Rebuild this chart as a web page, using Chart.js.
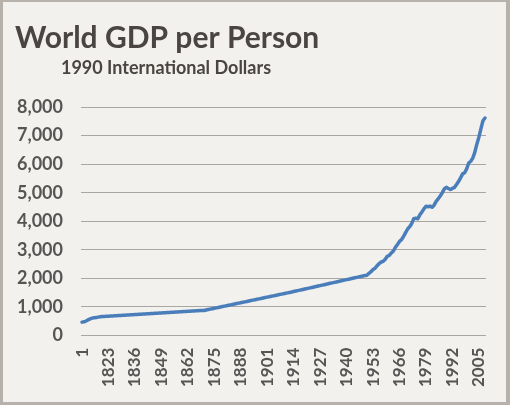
<!DOCTYPE html>
<html>
<head>
<meta charset="utf-8">
<script src="https://cdn.jsdelivr.net/npm/chart.js@4.4.1/dist/chart.umd.min.js"></script>
<style>
html, body { margin: 0; padding: 0; background: #b7b1ab; width: 510px; height: 405px; overflow: hidden; }
#frame { position: absolute; left: 3px; top: 2px; width: 503px; height: 400px; background: #f2f1ed; }
canvas { display: block; }
</style>
</head>
<body>
<div id="frame"><canvas id="chart" width="503" height="400"></canvas></div>
<script>
// categories: year 1 AD, then annual 1811-2008
var years = [1,
  1811,1812,1813,1814,1815,1816,1817,1818,1819,1820,
  1821,1822,1823,1824,1825,1826,1827,1828,1829,1830,
  1831,1832,1833,1834,1835,1836,1837,1838,1839,1840,
  1841,1842,1843,1844,1845,1846,1847,1848,1849,1850,
  1851,1852,1853,1854,1855,1856,1857,1858,1859,1860,
  1861,1862,1863,1864,1865,1866,1867,1868,1869,1870,
  1871,1872,1873,1874,1875,1876,1877,1878,1879,1880,
  1881,1882,1883,1884,1885,1886,1887,1888,1889,1890,
  1891,1892,1893,1894,1895,1896,1897,1898,1899,1900,
  1901,1902,1903,1904,1905,1906,1907,1908,1909,1910,
  1911,1912,1913,1914,1915,1916,1917,1918,1919,1920,
  1921,1922,1923,1924,1925,1926,1927,1928,1929,1930,
  1931,1932,1933,1934,1935,1936,1937,1938,1939,1940,
  1941,1942,1943,1944,1945,1946,1947,1948,1949,1950,
  1951,1952,1953,1954,1955,1956,1957,1958,1959,1960,
  1961,1962,1963,1964,1965,1966,1967,1968,1969,1970,
  1971,1972,1973,1974,1975,1976,1977,1978,1979,1980,
  1981,1982,1983,1984,1985,1986,1987,1988,1989,1990,
  1991,1992,1993,1994,1995,1996,1997,1998,1999,2000,
  2001,2002,2003,2004,2005,2006,2007,2008];

// GDP per person, 1990 international dollars
var gdpPerPerson = [470,
  480,510,550,585,610,625,635,645,655,665,
  670,674,678,683,687,691,696,700,704,709,
  713,717,722,726,730,735,739,743,748,752,
  756,761,765,769,774,778,782,787,791,795,
  800,804,808,813,817,821,826,830,834,839,
  843,847,852,856,860,865,869,873,877,880,
  895,910,925,940,955,970,985,1000,1015,1030,
  1045,1060,1075,1090,1105,1120,1135,1150,1165,1180,
  1195,1210,1225,1240,1255,1270,1285,1300,1315,1330,
  1345,1360,1375,1390,1405,1420,1435,1450,1465,1480,
  1495,1510,1525,1541,1557,1573,1589,1605,1621,1637,
  1653,1669,1685,1701,1717,1733,1749,1765,1781,1797,
  1813,1829,1845,1861,1877,1893,1909,1925,1941,1957,
  1973,1989,2005,2021,2037,2053,2069,2085,2101,2111,
  2180,2235,2310,2355,2445,2520,2575,2600,2670,2775,
  2805,2890,2960,3090,3190,3295,3355,3475,3600,3730,
  3810,3920,4090,4110,4090,4225,4325,4435,4525,4510,
  4530,4495,4565,4695,4785,4885,4995,5135,5190,5150,
  5110,5150,5185,5285,5390,5520,5660,5700,5835,6040,
  6100,6210,6410,6700,6945,7235,7520,7615];

var labelEvery = 13;
var yMin = 0, yMax = 8000, yStep = 1000;

var titleText = 'World GDP per Person';
var subtitleText = '1990 International Dollars';
var textColor = '#4a4542';
var tickColor = '#555555';
var gridColor = '#aaa7a3';
var lineColor = '#4a7ebb';

// subtitle sits off-centre under the title, so draw it by hand
var subtitlePlugin = {
  id: 'subtitleText',
  afterDraw: function(chart) {
    var ctx = chart.ctx;
    ctx.save();
    ctx.font = 'bold 18px Lato';
    ctx.fillStyle = textColor;
    ctx.textAlign = 'center';
    ctx.textBaseline = 'middle';
    ctx.fillText(subtitleText, 163, 66);
    ctx.restore();
  }
};

var ctx = document.getElementById('chart');
var chart = new Chart(ctx, {
  type: 'line',
  data: {
    labels: years.map(String),
    datasets: [{
      label: 'GDP per person',
      data: gdpPerPerson,
      borderColor: lineColor,
      backgroundColor: lineColor,
      borderWidth: 3.5,
      borderCapStyle: 'round',
      borderJoinStyle: 'round',
      pointRadius: 0,
      tension: 0,
      fill: false
    }]
  },
  options: {
    responsive: false,
    animation: false,
    events: [],
    layout: { padding: { left: 12, right: 20, top: 0, bottom: 3 } },
    plugins: {
      legend: { display: false },
      tooltip: { enabled: false },
      title: {
        display: true,
        text: titleText,
        align: 'start',
        color: textColor,
        font: { family: 'Lato', size: 30, weight: 'bold' },
        padding: { top: 18, bottom: 51 }
      }
    },
    scales: {
      x: {
        type: 'category',
        offset: true,
        grid: { display: false, drawTicks: false },
        border: { display: false },
        afterFit: function(scale) {
          scale.paddingLeft = 0;
          scale.paddingRight = 0;
        },
        ticks: {
          autoSkip: false,
          minRotation: 90,
          maxRotation: 90,
          padding: 12,
          color: tickColor,
          font: { family: 'Lato', size: 17, weight: 'bold' },
          callback: function(value, index) {
            return index % labelEvery === 0 ? this.getLabelForValue(value) : '';
          }
        }
      },
      y: {
        min: yMin,
        max: yMax,
        grid: { color: gridColor, lineWidth: 1, drawTicks: false },
        border: { display: false },
        afterFit: function(scale) {
          scale.width = 66;
        },
        ticks: {
          stepSize: yStep,
          padding: 18,
          color: tickColor,
          font: { family: 'Lato', size: 18, weight: 'bold' },
          callback: function(v) { return v.toLocaleString('en-US'); }
        }
      }
    }
  },
  plugins: [subtitlePlugin]
});
</script>
</body>
</html>
